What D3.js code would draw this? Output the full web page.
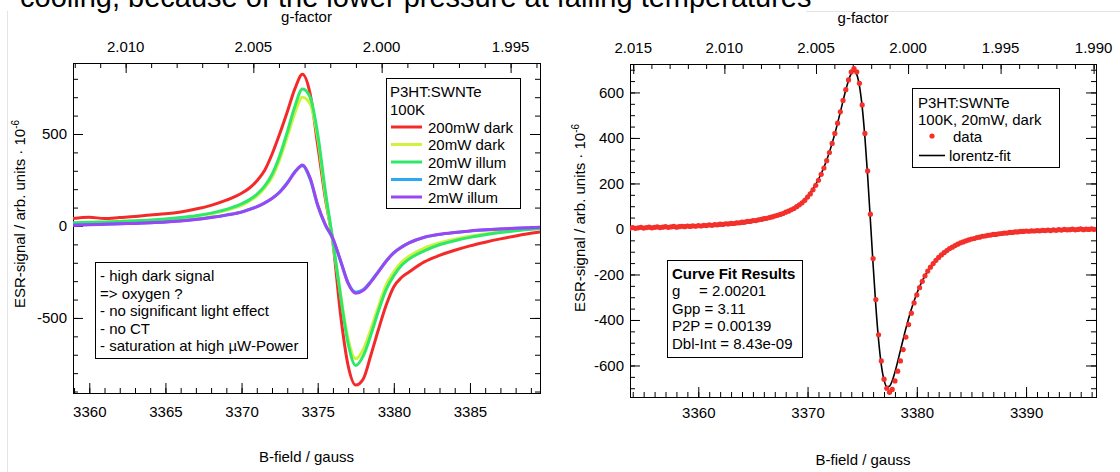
<!DOCTYPE html>
<html>
<head>
<meta charset="utf-8">
<script src="https://cdn.jsdelivr.net/npm/d3@7"></script>
<style>
  body { margin: 0; background: #fff; }
</style>
</head>
<body>
<div id="chart"></div>
<script>
// ---- left panel: P3HT:SWNTe at 100K, different microwave powers ----
const leftB = [3358.9, 3360, 3361, 3362, 3363, 3364, 3365, 3366, 3367, 3368, 3369, 3370, 3370.5, 3371, 3371.5,
  3372, 3372.5, 3373, 3373.5, 3374, 3374.5, 3375, 3375.5, 3376, 3376.5, 3377, 3377.5, 3378, 3378.5, 3379,
  3379.5, 3380, 3380.5, 3381, 3382, 3383, 3384, 3385, 3386, 3387, 3388, 3389, 3389.6];
const red200dark = [40, 48, 40, 46, 52, 60, 66, 76, 92, 112, 140, 178, 205, 245, 300, 390, 500, 620, 745, 825,
  720, 440, 150, -90, -480, -760, -865, -830, -700, -560, -430, -330, -280, -250, -195, -160, -132, -108, -88,
  -70, -54, -40, -32];
const yellow20dark = [15, 17, 19, 22, 25, 29, 35, 43, 53, 66, 85, 113, 135, 163, 205, 265, 360, 485, 615, 700,
  665, 480, 170, -90, -370, -615, -722, -670, -560, -435, -320, -250, -198, -165, -120, -92, -72, -56, -43,
  -32, -23, -16, -13];
const green20illum = [18, 20, 22, 25, 28, 32, 38, 46, 56, 70, 90, 120, 142, 172, 215, 280, 380, 510, 650, 745,
  700, 500, 190, -80, -380, -640, -758, -705, -590, -460, -345, -270, -215, -180, -135, -102, -80, -62, -48,
  -36, -26, -18, -15];
const blue2dark = [5, 8, 10, 12, 15, 18, 22, 28, 36, 47, 60, 76, 90, 105, 125, 150, 185, 235, 295, 328,
  255, 110, 5, -70, -190, -310, -360, -345, -300, -245, -190, -145, -115, -92, -62, -46, -36, -28, -22,
  -17, -13, -10, -8];
const purple2illum = [4, 7, 9, 12, 14, 17, 21, 27, 35, 46, 59, 75, 89, 104, 124, 149, 183, 232, 292, 332,
  262, 115, 8, -68, -188, -312, -366, -350, -304, -248, -192, -146, -116, -92, -61, -45, -35, -27, -21,
  -16, -12, -9, -7];
const seriesNames = ["200mW dark", "20mW dark", "20mW illum", "2mW dark", "2mW illum"];
const seriesValues = [red200dark, yellow20dark, green20illum, blue2dark, purple2illum];
const seriesColors = ["#f42a2a", "#d0f23c", "#2ee86a", "#2aa8f4", "#9a46f2"];
const leftNotes = ["- high dark signal", "=> oxygen ?", "- no significant light effect", "- no CT",
  "- saturation at high \u00b5W-Power"];

// ---- right panel: 20mW dark with lorentz fit ----
const dataStartB = 3353.75, dataStepB = 0.25;
const dataSignal = [4, 6, 3, 5, 7, 4, 6, 8, 5, 7,
  9, 6, 8, 10, 7, 9, 11, 8, 10, 12,
  10, 13, 11, 14, 12, 15, 13, 16, 15, 18,
  16, 19, 18, 21, 20, 23, 22, 25, 24, 27,
  27, 30, 30, 33, 34, 37, 37, 40, 42, 45,
  47, 50, 53, 57, 60, 64, 68, 74, 78, 84,
  90, 98, 106, 115, 126, 140, 154, 172, 192, 214,
  240, 268, 300, 336, 376, 420, 465, 515, 565, 612,
  655, 690, 705, 690, 640, 545, 420, 255, 65, -130,
  -310, -465, -580, -660, -700, -718, -705, -668, -625, -580,
  -530, -475, -420, -370, -325, -290, -258, -230, -206, -185,
  -168, -152, -138, -125, -114, -104, -95, -86, -80, -73,
  -67, -61, -57, -52, -48, -44, -42, -38, -36, -32,
  -31, -28, -27, -24, -24, -21, -20, -18, -18, -15,
  -15, -13, -13, -11, -11, -9, -10, -8, -9, -7,
  -8, -6, -7, -5, -7, -4, -6, -3, -5, -2,
  -4, -3, -1, -4, -2, 0, -3, -1, -2, 0,
  -2];
const fitB = [3353.75, 3356, 3358, 3360, 3362, 3364, 3366, 3367, 3368, 3369, 3370, 3370.5, 3371, 3371.5,
  3372, 3372.5, 3373, 3373.5, 3373.75, 3374, 3374.25, 3374.5, 3374.75, 3375, 3375.25, 3375.5, 3375.75,
  3376, 3376.25, 3376.5, 3376.75, 3377, 3377.25, 3377.5, 3377.75, 3378, 3378.5, 3379, 3379.5, 3380,
  3380.5, 3381, 3382, 3383, 3384, 3386, 3388, 3390, 3392, 3394, 3396.4];
const fitSignal = [3.8, 5.2, 7.1, 10.0, 14.8, 23.0, 38.4, 51.3, 70.3, 99.3, 145.0, 177.3, 218.5, 271.2,
  337.6, 419.0, 513.7, 611.0, 653.0, 683.3, 695.0, 679.5, 628.7, 536.9, 402.7, 232.6, 39.7,
  -157.2, -338.4, -488.1, -597.1, -663.8, -692.5, -690.8, -666.9, -628.8, -533.6, -437.1, -352.6, -283.3,
  -228.2, -184.8, -124.1, -86.2, -61.8, -34.4, -20.9, -13.6, -9.3, -6.6, -4.6];
const fitResults = ["g", "Gpp = 3.11", "P2P = 0.00139", "Dbl-Int = 8.43e-09"];
const fitG = "= 2.00201";

// ---- axes ----
const leftBTicks = [3360, 3365, 3370, 3375, 3380, 3385];
const rightBTicks = [3360, 3370, 3380, 3390];
const leftYTicks = [-500, 0, 500];
const rightYTicks = [-600, -400, -200, 0, 200, 400, 600];
const leftGTicks = [2.010, 2.005, 2.000, 1.995];
const rightGTicks = [2.015, 2.010, 2.005, 2.000, 1.995, 1.990];
const gTimesB = 6758.4;   // g * B (gauss) for the microwave frequency

const FONT = '"Liberation Sans", Arial, Helvetica, sans-serif';

let svg = d3.select("#chart").append("svg")
  .attr("width", 1120).attr("height", 472)
  .style("font-family", FONT).style("font-size", "15px");

let defs = svg.append("defs");

// remains of the page around the figure
svg.append("line").attr("x1", 7.5).attr("x2", 7.5).attr("y1", 11).attr("y2", 472)
  .attr("stroke", "#e4e4e4");
svg.append("line").attr("x1", 806).attr("x2", 1120).attr("y1", 11.5).attr("y2", 11.5)
  .attr("stroke", "#e4e4e4");
svg.append("text").attr("x", 20).attr("y", 7).style("font-size", "29px")
  .text("cooling, because of the lower pressure at falling temperatures");

function styleAxis(a) {
  a.select(".domain").remove();
  a.attr("font-family", null).attr("font-size", null);
  a.selectAll("line").attr("stroke", "#000");
  a.selectAll("text").attr("fill", "#000");
}

const fmt = d => String(d);

function drawPanel(p) {
  let x = d3.scaleLinear().domain(p.bDomain).range([p.left, p.right]);
  let y = d3.scaleLinear().domain(p.yDomain).range([p.bottom, p.top]);
  let g = svg.append("g");

  // bottom B-field axis
  g.append("g").attr("transform", `translate(0,${p.bottom})`)
    .call(d3.axisBottom(x).tickValues(d3.range(Math.ceil(p.bDomain[0]), p.bDomain[1], 1))
      .tickSize(-5).tickFormat(""))
    .call(styleAxis);
  g.append("g").attr("transform", `translate(0,${p.bottom})`)
    .call(d3.axisBottom(x).tickValues(p.bTicks).tickSize(-10).tickPadding(p.bPad).tickFormat(fmt))
    .call(styleAxis);

  // left + mirrored right signal axis
  let yMinor = d3.range(Math.ceil(p.yDomain[0] / p.yMinorStep) * p.yMinorStep, p.yDomain[1], p.yMinorStep);
  [[p.left, d3.axisLeft], [p.right, d3.axisRight]].forEach(([pos, ax], k) => {
    g.append("g").attr("transform", `translate(${pos},0)`)
      .call(ax(y).tickValues(yMinor).tickSize(-5).tickFormat(""))
      .call(styleAxis);
    g.append("g").attr("transform", `translate(${pos},0)`)
      .call(ax(y).tickValues(p.yTicks).tickSize(-10).tickPadding(6).tickFormat(k === 0 ? fmt : ""))
      .call(styleAxis);
  });

  // top g-factor axis
  let gAxis = g.append("g");
  let gMinor = d3.range(Math.round(gTimesB / p.bDomain[1] * 1000), gTimesB / p.bDomain[0] * 1000, 1)
    .map(v => v / 1000);
  gAxis.selectAll(".gminor").data(gMinor).enter().append("line")
    .attr("x1", d => x(gTimesB / d) + 0.5).attr("x2", d => x(gTimesB / d) + 0.5)
    .attr("y1", p.top).attr("y2", p.top + 5).attr("stroke", "#000");
  gAxis.selectAll(".gmajor").data(p.gTicks).enter().append("line")
    .attr("x1", d => x(gTimesB / d) + 0.5).attr("x2", d => x(gTimesB / d) + 0.5)
    .attr("y1", p.top).attr("y2", p.top + 10).attr("stroke", "#000");
  gAxis.selectAll(".glabel").data(p.gTicks).enter().append("text")
    .attr("x", d => x(gTimesB / d)).attr("y", p.top - 11)
    .attr("text-anchor", "middle")
    .text(d => d.toFixed(3));

  // frame
  g.append("rect").attr("x", p.left + 0.5).attr("y", p.top + 0.5)
    .attr("width", p.right - p.left).attr("height", p.bottom - p.top)
    .attr("fill", "none").attr("stroke", "#000");

  // titles
  let cx = (p.left + p.right) / 2;
  g.append("text").attr("x", cx).attr("y", p.top - 41).attr("text-anchor", "middle").text("g-factor");
  g.append("text").attr("x", cx).attr("y", p.xTitleY).attr("text-anchor", "middle").text("B-field / gauss");
  let yt = g.append("text").attr("text-anchor", "middle")
    .attr("transform", `translate(${p.yTitleX},${p.yTitleY}) rotate(-90)`);
  yt.append("tspan").text("ESR-signal / arb. units \u00b7 10");
  yt.append("tspan").attr("dy", -6).style("font-size", "10px").text("-6");

  // clip for the plot contents
  defs.append("clipPath").attr("id", p.id).append("rect")
    .attr("x", p.left).attr("y", p.top).attr("width", p.right - p.left).attr("height", p.bottom - p.top);
  let plot = svg.append("g").attr("clip-path", `url(#${p.id})`);

  return {x, y, plot, g};
}

// ---------- left panel ----------
let L = drawPanel({
  id: "clipL", left: 73, right: 540, top: 63, bottom: 393,
  bDomain: [3358.93, 3389.6], yDomain: [-908, 886],
  bTicks: leftBTicks, bPad: 13, yTicks: leftYTicks, yMinorStep: 100, gTicks: leftGTicks,
  xTitleY: 462, yTitleX: 25, yTitleY: 214
});

let lineL = d3.line()
  .x((d, i) => L.x(leftB[i]))
  .y(d => L.y(d))
  .curve(d3.curveMonotoneX);

seriesValues.forEach((vals, k) => {
  L.plot.append("path").datum(vals)
    .attr("d", lineL)
    .attr("fill", "none")
    .attr("stroke", seriesColors[k])
    .attr("stroke-width", 3)
    .attr("stroke-linejoin", "round");
});

// legend
let legL = svg.append("g");
legL.append("rect").attr("x", 386.5).attr("y", 78.5).attr("width", 134).attr("height", 130)
  .attr("fill", "#fff").attr("stroke", "#000");
legL.append("text").attr("x", 390).attr("y", 97).text("P3HT:SWNTe");
legL.append("text").attr("x", 390).attr("y", 114.5).text("100K");
seriesNames.forEach((name, k) => {
  let ly = 127 + k * 17.5;
  legL.append("line").attr("x1", 391).attr("x2", 422).attr("y1", ly).attr("y2", ly)
    .attr("stroke", seriesColors[k]).attr("stroke-width", 3);
  legL.append("text").attr("x", 428).attr("y", ly + 5.5).text(name);
});

// notes box
let notes = svg.append("g");
notes.append("rect").attr("x", 95.5).attr("y", 262.5).attr("width", 212).attr("height", 96)
  .attr("fill", "#fff").attr("stroke", "#000");
leftNotes.forEach((t, k) => {
  notes.append("text").attr("x", 100).attr("y", 281 + k * 17.5).text(t);
});

// ---------- right panel ----------
let R = drawPanel({
  id: "clipR", left: 630, right: 1096, top: 64, bottom: 397,
  bDomain: [3353.75, 3396.4], yDomain: [-738.5, 725],
  bTicks: rightBTicks, bPad: 10, yTicks: rightYTicks, yMinorStep: 50, gTicks: rightGTicks,
  xTitleY: 465, yTitleX: 585, yTitleY: 218
});

let lineR = d3.line()
  .x((d, i) => R.x(fitB[i]))
  .y(d => R.y(d))
  .curve(d3.curveMonotoneX);

R.plot.append("path").datum(fitSignal)
  .attr("d", lineR)
  .attr("fill", "none")
  .attr("stroke", "#000")
  .attr("stroke-width", 1.6);

R.plot.selectAll("circle").data(dataSignal).enter().append("circle")
  .attr("cx", (d, i) => R.x(dataStartB + i * dataStepB))
  .attr("cy", d => R.y(d))
  .attr("r", 2.6)
  .attr("fill", "#f4302a");

// legend
let legR = svg.append("g");
legR.append("rect").attr("x", 912.5).attr("y", 88.5).attr("width", 147).attr("height", 79)
  .attr("fill", "#fff").attr("stroke", "#000");
legR.append("text").attr("x", 918).attr("y", 107.5).text("P3HT:SWNTe");
legR.append("text").attr("x", 918).attr("y", 124.5).text("100K, 20mW, dark");
legR.append("circle").attr("cx", 932).attr("cy", 136).attr("r", 2.6).attr("fill", "#f4302a");
legR.append("text").attr("x", 953).attr("y", 141.5).text("data");
legR.append("line").attr("x1", 919).attr("x2", 945).attr("y1", 155.5).attr("y2", 155.5)
  .attr("stroke", "#000").attr("stroke-width", 1.6);
legR.append("text").attr("x", 949).attr("y", 160.5).text("lorentz-fit");

// curve fit results
let fitBox = svg.append("g");
fitBox.append("rect").attr("x", 667.5).attr("y", 260.5).attr("width", 135).attr("height", 97)
  .attr("fill", "#fff").attr("stroke", "#000");
fitBox.append("text").attr("x", 672).attr("y", 278.5).style("font-weight", "bold").text("Curve Fit Results");
fitResults.forEach((t, k) => {
  fitBox.append("text").attr("x", 672).attr("y", 296 + k * 17.6).text(t);
});
fitBox.append("text").attr("x", 699).attr("y", 296).text(fitG);
</script>
</body>
</html>
